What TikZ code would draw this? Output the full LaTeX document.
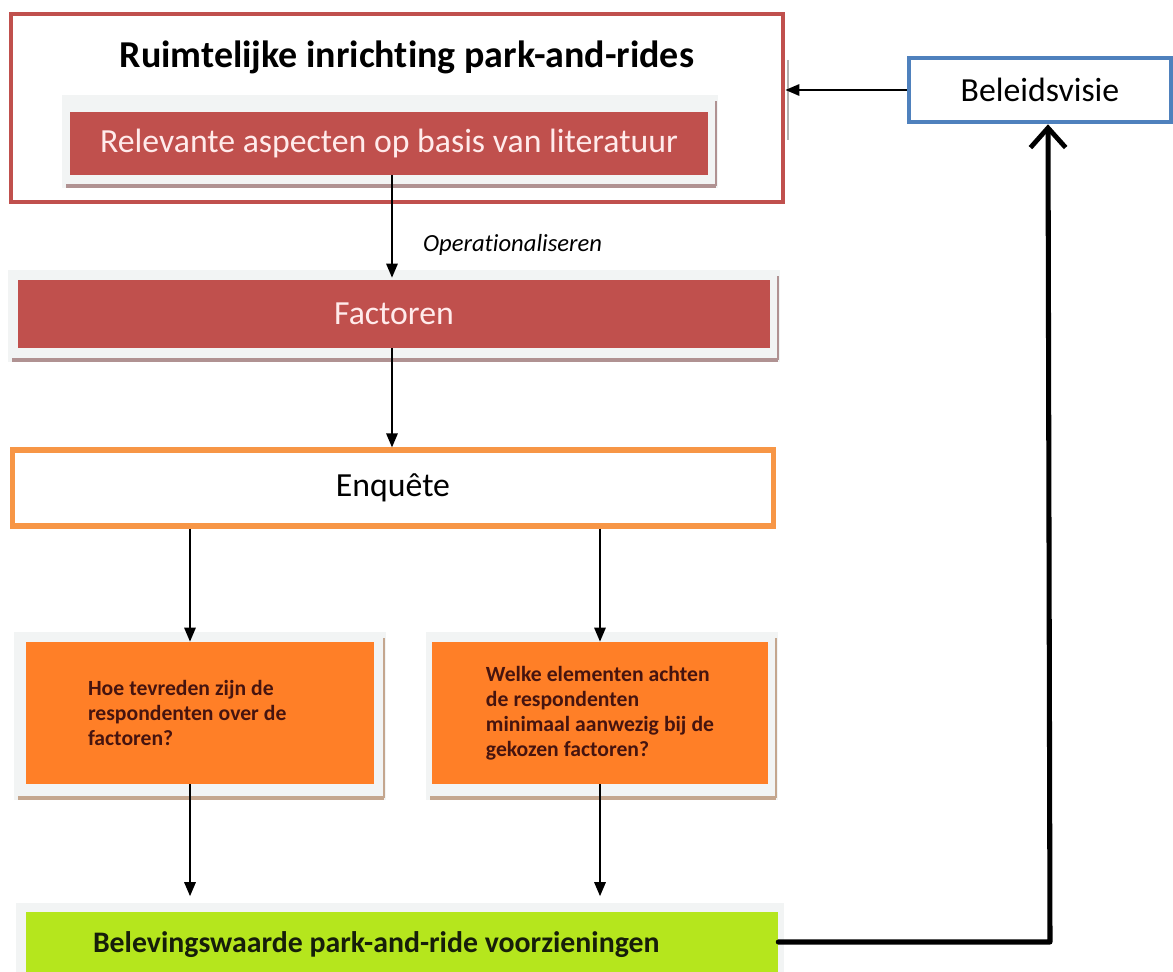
\documentclass[tikz,border=0pt]{standalone}
\usepackage{fontspec}
\setmainfont{Carlito}[Ligatures=NoCommon]
\usetikzlibrary{positioning, arrows.meta, calc}

\begin{document}
\begin{tikzpicture}[x=0.025cm, y=-0.025cm, >={Triangle[length=10pt,width=8pt]}]
        % kleuren
        \definecolor{myred}{RGB}{192,80,77}
        \definecolor{myblue}{RGB}{79,129,189}
        \definecolor{myorange}{RGB}{247,150,70}
        \definecolor{myfill}{RGB}{255,127,39}
        \definecolor{mygreen}{RGB}{181,230,29}
        \definecolor{myback}{RGB}{242,244,244}
        \definecolor{shred}{RGB}{176,146,146}
        \definecolor{shorange}{RGB}{196,166,142}
        \def\pxl{0.025cm}

        % stijlen
        \tikzset{
            block/.style={fill=myred, text=white!92!red, font=\fontsize{24}{28}\selectfont, inner sep=0pt},
            frame/.style={draw=#1, line width=3.3pt, fill=white, inner sep=0pt, font=\fontsize{24}{28}\selectfont},
            question/.style={fill=myfill, text={rgb,255:red,70;green,20;blue,15}, font=\bfseries\fontsize{15.4}{17.9}\selectfont,
                align=left, inner ysep=0pt, minimum height=142*\pxl,
                execute at begin node={\spaceskip=3.6pt\relax}},
            arrow/.style={->, line width=1.6pt},
            feedback/.style={line width=3.6pt, line cap=round, line join=round}
        }

        \useasboundingbox (0,0) rectangle (1173,972);
        \clip (0,0) rectangle (1173,972);

        % --- bovenste kader ---
        \node[frame=myred, minimum width=772*\pxl, minimum height=188*\pxl] (kader) at (397,108) {};

        % achtergrond van de blokken met schaduw
        \foreach \xa/\ya/\xb/\yb/\sh in {62/95/718/188/shred, 8/270/780/362/shred,
                14/632/386/800/shorange, 426/632/778/800/shorange} {
            \fill[myback] (\xa,\ya) rectangle (\xb,\yb);
            \draw[\sh, line width=2.4pt] (\xa+4,\yb-2) -- (\xb-2,\yb-2);
            \draw[\sh, line width=1.2pt] (\xb-2,\yb-2) -- (\xb-2,\ya+6);
        }
        \fill[myback] (16,903) rectangle (784,980);

        \node[font=\bfseries\fontsize{27}{32}\selectfont] (titel) at (407,57) {Ruimtelijke inrichting park-and-rides};
        \node[block, minimum width=638*\pxl, minimum height=63*\pxl] (rel) at (389,143.5) {Relevante aspecten op basis van literatuur};
        \draw[gray!60, line width=1pt] (788,60) -- (788,140);

        % --- beleid ---
        \node[frame=myblue, minimum width=262*\pxl, minimum height=64*\pxl] (beleid) at (1040,90) {Beleidsvisie};

        % --- midden ---
        \node[block, minimum width=752*\pxl, minimum height=68*\pxl] (fact) at (394,314) {Factoren};
        \node[frame=myorange, line width=3.6pt, minimum width=761*\pxl, minimum height=76*\pxl] (enq) at (393,488) {Enquête};

        % --- vragen ---
        \node[question, text width=224*\pxl, inner xsep=62*\pxl] (hoe) at (200,713)
            {Hoe tevreden zijn de\\respondenten over de\\factoren?};
        \node[question, minimum width=336*\pxl, inner xsep=0pt] (welk) at (600,713)
            {Welke elementen achten\\de respondenten\\minimaal aanwezig bij de\\gekozen factoren?};

        % --- resultaat ---
        \node[fill=mygreen, text={rgb,255:red,22;green,30;blue,10}, font=\bfseries\fontsize{21.2}{24}\selectfont,
            align=left, text width=618*\pxl, inner xsep=67*\pxl, minimum height=66*\pxl,
            execute at begin node={\spaceskip=4.8pt\relax}] (groen) at (402,945)
            {Belevingswaarde park-and-ride voorzieningen};

        % --- pijlen ---
        \draw[arrow] (beleid.west) -- (beleid.west -| kader.east);
        \draw[arrow] ($(rel.south)+(3,0)$) -- ($(fact.north)+(-2,-2)$)
            node[pos=0.68, right=18pt, font=\itshape\fontsize{17.5}{20}\selectfont] (oper) {Operationaliseren};
        \draw[arrow] ($(fact.south)+(-2,0)$) -- ($(enq.north)+(-1,0)$);
        \draw[arrow] (enq.south -| 190,0) -- (hoe.north -| 190,0);
        \draw[arrow] (enq.south -| welk.north) -- (welk.north);
        \draw[arrow, shorten >=11pt] (hoe.south -| 190,0) -- (groen.north -| 190,0);
        \draw[arrow, shorten >=11pt] (welk.south) -- (welk.south |- groen.north);
        \coordinate (hoek) at (1050,942);
        \draw[feedback, -{Straight Barb[length=14pt,width=25pt,line width=3.4pt]}]
            (groen.east |- hoek) -- (hoek) -- (beleid.south -| 1048,0);
\end{tikzpicture}
\end{document}
